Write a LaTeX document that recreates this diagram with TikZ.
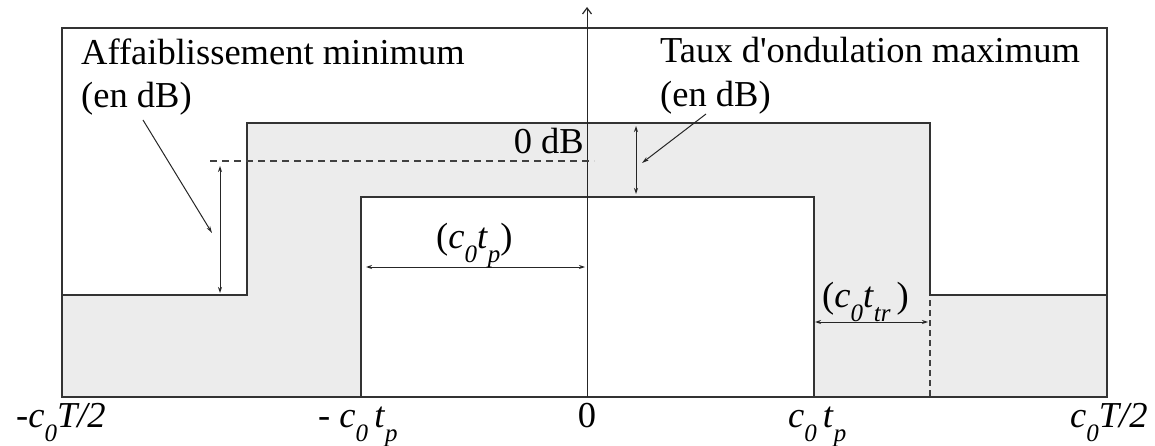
\documentclass[tikz,border=0pt]{standalone}
\usepackage{fontspec}
\setmainfont{Liberation Serif}
\usetikzlibrary{arrows.meta}
\newcommand\sbs[1]{\raisebox{-14pt}{\fontsize{25}{27}\selectfont\itshape #1}}
\begin{document}
\begin{tikzpicture}[x=1pt,y=-1pt,
  ln/.style={draw=black!80,line width=1.3pt},
  thinln/.style={draw=black!85,line width=1pt},
  gfill/.style={fill=gray!15},
  dim/.style={thinln,{Stealth[length=6pt,width=4pt]}-{Stealth[length=6pt,width=4pt]}},
  ptr/.style={thinln,-{Stealth[length=7pt,width=4pt]}},
  dsh/.style={draw=black!75,line width=1.2pt,dash pattern=on 7pt off 5pt},
  lbl/.style={inner sep=0pt,font=\fontsize{36.5}{40}\selectfont}]
\useasboundingbox (0,0) rectangle (1155,446);
% shaded tolerance band
\fill[gfill] (62,295) -- (247,295) -- (247,123) -- (930,123) -- (930,295) -- (1107,295)
  -- (1107,397) -- (814,397) -- (814,197) -- (361,197) -- (361,397) -- (62,397) -- cycle;
% frame
\draw[ln] (62,28) rectangle (1107,397);
\draw[draw=black!80,line width=2pt] (62,397) -- (1107,397);
% outer template
\draw[ln] (62,295) -- (247,295) -- (247,123) -- (930,123) -- (930,295) -- (1107,295);
% inner template
\draw[ln] (361,397) -- (361,197) -- (814,197) -- (814,397);
% axis
\coordinate (ax0) at (587,397);
\coordinate (ax1) at (587,7);
\draw[thinln,-{Straight Barb[length=6pt,width=9pt,line width=1.2pt]}] (ax0) -- (ax1);
% dashed lines
\coordinate (d0) at (210,161);
\coordinate (d1) at (594,161);
\draw[dsh] (d0) -- (d1);
\coordinate (v0) at (930,300);
\coordinate (v1) at (930,397);
\draw[dsh,dash pattern=on 6pt off 4pt] (v0) -- (v1);
% dimension arrows
\coordinate (a1) at (220,166);
\coordinate (a2) at (220,293);
\draw[dim] (a1) -- (a2);
\coordinate (r1) at (636,126);
\coordinate (r2) at (636,194);
\draw[dim] (r1) -- (r2);
\coordinate (p1) at (366,267);
\coordinate (p2) at (585,267);
\draw[dim] (p1) -- (p2);
\coordinate (t1) at (815,322);
\coordinate (t2) at (928,322);
\draw[dim] (t1) -- (t2);
% labels
\node[lbl,anchor=base west] (aff) at (81,65) {Affaiblissement minimum};
\node[lbl,anchor=base west] (aff2) at (81,108) {(en dB)};
\node[lbl,anchor=base west] (tau) at (660,63) {Taux d\textquotesingle ondulation maximum};
\node[lbl,anchor=base west] (tau2) at (660,107) {(en dB)};
\node[lbl,anchor=base east] (zdb) at (584,154) {0 dB};
\node[lbl,anchor=base west] (ctp) at (436,248) {(\textit{c}\sbs{0}\textit{t}\sbs{p})};
\node[lbl,anchor=base west] (cttr) at (822,307) {(\textit{c}\sbs{0}\textit{t}\sbs{tr}\,)};
% pointer arrows
\coordinate (q1) at (143,120);
\coordinate (q2) at (212,233);
\draw[ptr] (q1) -- (q2);
\coordinate (s1) at (706,114);
\coordinate (s2) at (642,163);
\draw[ptr] (s1) -- (s2);
% bottom axis labels
\node[lbl,anchor=base west] (xl) at (16,427) {\textit{-c}\sbs{0}\textit{T/2}};
\node[lbl,anchor=base west] (xm) at (318,427) {\textit{- c}\sbs{0}\,\textit{t}\sbs{p}};
\node[lbl,anchor=base] (xz) at (587,427) {0};
\node[lbl,anchor=base west] (xp) at (788,427) {\textit{c}\sbs{0}\,\textit{t}\sbs{p}};
\node[lbl,anchor=base west] (xr) at (1070,427) {\textit{c}\sbs{0}\textit{T/2}};
\end{tikzpicture}
\end{document}
